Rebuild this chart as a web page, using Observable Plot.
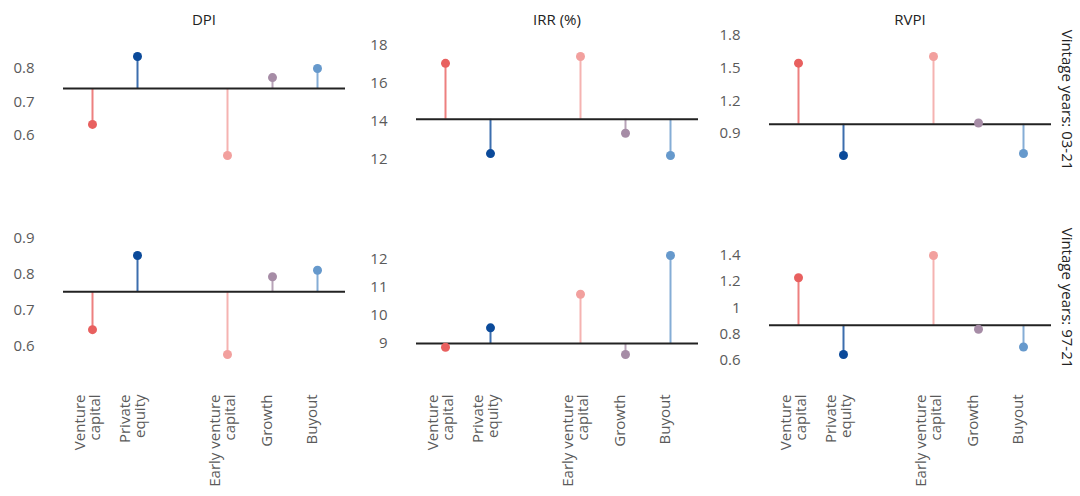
<!DOCTYPE html>
<html>
<head>
<meta charset="utf-8">
<script src="https://cdn.jsdelivr.net/npm/d3@7"></script>
<script src="https://cdn.jsdelivr.net/npm/@observablehq/plot@0.6"></script>
<style>
  body { margin: 0; background: #fff; }
  #chart { position: relative; width: 1080px; height: 496px; font-family: "Open Sans", sans-serif; overflow: hidden; background: #fff; }
  .panel { position: absolute; }
  .panel svg { overflow: visible; }
  .title { position: absolute; width: 282px; text-align: center; font-size: 15px; color: #222; line-height: 1; }
  .facet { position: absolute; font-size: 15px; color: #222; writing-mode: vertical-rl; transform: translate(-50%, -50%); white-space: nowrap; line-height: 1; }
</style>
</head>
<body>
<div id="chart"></div>
<script>
// ---- Data ----
const categories = ["Venture capital", "Private equity", "Early venture capital", "Growth", "Buyout"];
const tickLabels = ["Venture\ncapital", "Private\nequity", "Early venture\ncapital", "Growth", "Buyout"];
const colors = ["#e8605f", "#0b4a9a", "#f2a09e", "#a68ca6", "#6699cc"];

const metrics = ["DPI", "IRR (%)", "RVPI"];
const vintages = ["Vintage years: 03-21", "Vintage years: 97-21"];

// Vintage years 03-21
const dpi0321  = [0.633, 0.836, 0.540, 0.773, 0.800];
const irr0321  = [17.04, 12.30, 17.40, 13.37, 12.20];
const rvpi0321 = [1.546, 0.700, 1.607, 0.998, 0.718];
// Vintage years 97-21
const dpi9721  = [0.646, 0.852, 0.577, 0.793, 0.811];
const irr9721  = [8.87, 9.56, 10.76, 8.61, 12.14];
const rvpi9721 = [1.23, 0.643, 1.40, 0.836, 0.70];

// Reference (baseline) values per panel
const base0321 = [0.74, 14.1, 0.986];
const base9721 = [0.751, 9.0, 0.866];

// Y tick values per panel
const ticks0321 = [[0.6, 0.7, 0.8], [12, 14, 16, 18], [0.9, 1.2, 1.5, 1.8]];
const ticks9721 = [[0.6, 0.7, 0.8, 0.9], [9, 10, 11, 12], [0.6, 0.8, 1, 1.2, 1.4]];

const rows = [
  {values: [dpi0321, irr0321, rvpi0321], base: base0321, ticks: ticks0321},
  {values: [dpi9721, irr9721, rvpi9721], base: base9721, ticks: ticks9721}
];

// ---- Layout ----
const chart = document.getElementById("chart");
const panelW = 353, mL = 63, mR = 8;
const rowTop = [26, 226];
const rowMarginTop = [30, 29];
const frameH = 99;

// x domain with an empty slot between the first two and last three categories
const xDomain = [categories[0], categories[1], " ", categories[2], categories[3], categories[4]];
const labelOf = new Map(categories.map((c, i) => [c, tickLabels[i]]));

function panel(values, base, ticks, rowIndex) {
  const isBottom = rowIndex === 1;
  const data = categories.map((c, i) => ({cat: c, value: values[i]}));
  const mt = rowMarginTop[rowIndex];
  const mb = isBottom ? 496 - rowTop[1] - mt - frameH : 11;
  return Plot.plot({
    width: panelW,
    height: mt + frameH + mb,
    marginLeft: mL,
    marginRight: mR,
    marginTop: mt,
    marginBottom: mb,
    style: {fontFamily: "Open Sans", fontSize: "15px", color: "#5a5a5a", background: "transparent", overflow: "visible"},
    x: {type: "point", domain: xDomain, padding: 0.6, axis: null, label: null},
    y: {domain: d3.extent(values), axis: null, label: null},
    color: {domain: categories, range: colors},
    marks: [
      Plot.axisY({ticks, tickSize: 0, tickPadding: 29, label: null, tickFormat: d => String(d), fill: "#5a5a5a"}),
      Plot.ruleX(data, {x: "cat", y1: base, y2: "value", stroke: "cat", strokeWidth: 2, strokeOpacity: 0.8}),
      Plot.ruleY([base], {stroke: "#222", strokeWidth: 2}),
      Plot.dot(data, {x: "cat", y: "value", fill: "cat", r: 4.5}),
      isBottom ? Plot.axisX({ticks: categories, tickSize: 0, tickPadding: 40, tickRotate: -90, label: null, dx: -5,
                             tickFormat: d => labelOf.get(d), fill: "#5a5a5a"}) : null
    ]
  });
}

rows.forEach((row, r) => {
  row.values.forEach((vals, m) => {
    const div = document.createElement("div");
    div.className = "panel";
    div.style.left = (m * panelW) + "px";
    div.style.top = rowTop[r] + "px";
    div.appendChild(panel(vals, row.base[m], row.ticks[m], r));
    chart.appendChild(div);
  });
});

metrics.forEach((t, m) => {
  const d = document.createElement("div");
  d.className = "title";
  d.textContent = t;
  d.style.left = (m * panelW + mL) + "px";
  d.style.top = "12px";
  chart.appendChild(d);
});

const facetCenters = [100, 298];
vintages.forEach((t, r) => {
  const d = document.createElement("div");
  d.className = "facet";
  d.textContent = t;
  d.style.left = "1067px";
  d.style.top = facetCenters[r] + "px";
  chart.appendChild(d);
});
</script>
</body>
</html>
